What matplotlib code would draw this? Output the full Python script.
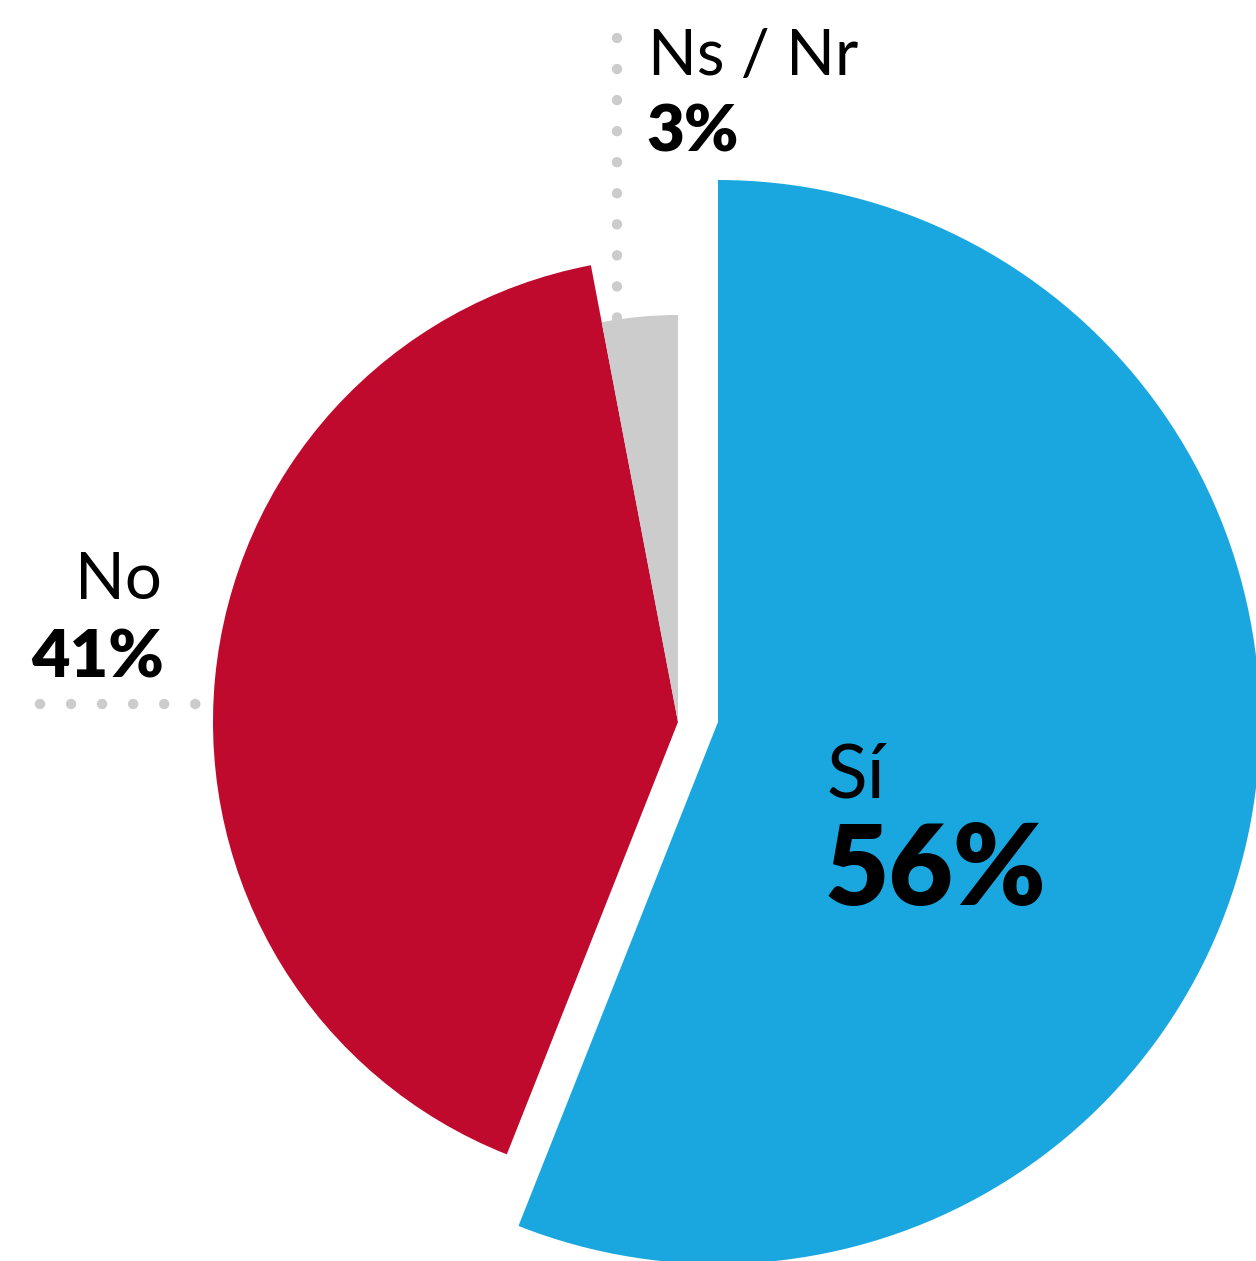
import matplotlib.pyplot as plt

# datos
etiquetas = ["Sí", "No", "Ns / Nr"]
valores = [56, 41, 3]
colores = ["#1aa7e0", "#c00a2d", "#cccccc"]

W, H = 1256, 1261
plt.rcParams['font.family'] = ['Lato', 'DejaVu Sans']

fig = plt.figure(figsize=(W / 100, H / 100), dpi=100)
ax = fig.add_axes([0, 0, 1, 1])

cy = H - 722
cuñas, _ = ax.pie(valores, colors=colores, startangle=90, counterclock=False,
                  radius=465, center=(678, cy), wedgeprops=dict(linewidth=0))
# Sí separado a la derecha y más grande, Ns/Nr más pequeño
cuñas[0].set_center((718, cy))
cuñas[0].set_radius(542)
cuñas[2].set_radius(407)

ax.set_xlim(0, W)
ax.set_ylim(0, H)
ax.set_aspect('equal')
ax.axis('off')

# líneas punteadas
punteado = dict(color="#cccccc", linewidth=7.5, linestyle=(0, (0.001, 2.98)),
                dash_capstyle='round', solid_capstyle='round')
ax.plot([617, 617], [H - 38, H - 324], **punteado)
ax.plot([40, 199], [H - 704, H - 704], **punteado)

# textos
ax.text(648, H - 75, "Ns / Nr", fontsize=46, va='baseline', ha='left')
ax.text(646, H - 152, f"{valores[2]}%", fontsize=47, fontweight='heavy', va='baseline', ha='left')
ax.text(162, H - 599, "No", fontsize=47, va='baseline', ha='right')
ax.text(164, H - 677, f"{valores[1]}%", fontsize=48, fontweight='heavy', va='baseline', ha='right')
ax.text(827, H - 797, "Sí", fontsize=54, va='baseline', ha='left')
ax.text(825, H - 905, f"{valores[0]}%", fontsize=80, fontweight='heavy', va='baseline', ha='left')

fig.savefig("out.png", dpi=100)
